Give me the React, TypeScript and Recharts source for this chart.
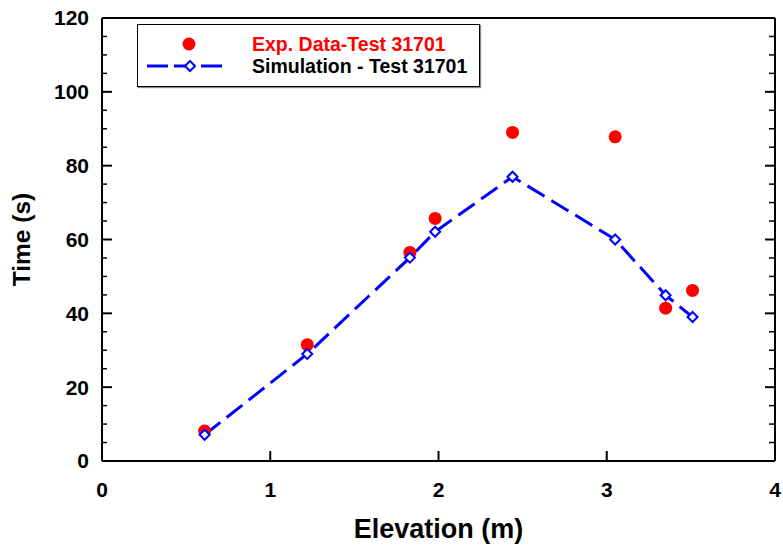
import React from "react";
import {
  ComposedChart,
  XAxis,
  YAxis,
  Scatter,
  Line,
  Legend,
} from "recharts";

// elevation (m) of the measuring stations
const ELEVATION = [0.61, 1.22, 1.83, 1.98, 2.44, 3.05, 3.35, 3.51];
// time (s)
const EXP_TIME = [8.1, 31.5, 56.5, 65.7, 89.0, 87.8, 41.4, 46.2];
const SIM_TIME = [7.1, 29.0, 55.1, 62.1, 77.0, 60.0, 44.9, 39.0];

const X_MAJOR = [0, 1, 2, 3, 4];
const X_MINOR = [
  0.2, 0.4, 0.6, 0.8, 1.2, 1.4, 1.6, 1.8, 2.2, 2.4, 2.6, 2.8, 3.2, 3.4, 3.6,
  3.8,
];
const Y_MAJOR = [0, 20, 40, 60, 80, 100, 120];
const Y_MINOR = [
  5, 10, 15, 25, 30, 35, 45, 50, 55, 65, 70, 75, 85, 90, 95, 105, 110, 115,
];

const LEGEND_LABELS = ["Exp. Data-Test 31701", "Simulation - Test 31701"];
const LEGEND_COLORS = ["#ff0000", "#000000"];

const expPoints = ELEVATION.map((x, i) => ({ x, y: EXP_TIME[i] }));
const simPoints = ELEVATION.map((x, i) => ({ x, y: SIM_TIME[i] }));

const FONT = "'Liberation Sans', Arial, sans-serif";
const BLUE = "#0000ff";
const RED = "#ff0000";

const tickFont = {
  fill: "#000",
  fontSize: 21,
  fontWeight: "bold",
  fontFamily: FONT,
};
const frame = { stroke: "#000", strokeWidth: 2 };
const minorLine = { stroke: "#000", strokeWidth: 1.5 };
const noLabel = () => "";

const RedDot = (props: any) => {
  const { cx, cy } = props;
  if (cx == null || cy == null) return null;
  return <circle cx={cx} cy={cy} r={6.5} fill={RED} />;
};

const Diamond = (props: any) => {
  const { cx, cy } = props;
  if (cx == null || cy == null) return null;
  return (
    <path
      key={props.index}
      d={`M${cx},${cy - 5}L${cx + 5},${cy}L${cx},${cy + 5}L${cx - 5},${cy}Z`}
      fill="#fff"
      stroke={BLUE}
      strokeWidth={2}
    />
  );
};

const LegendBox = () => (
  <div
    style={{
      width: "100%",
      height: "100%",
      boxSizing: "border-box",
      border: "1.5px solid #000",
      boxShadow: "1px 1px 1px #888",
      background: "#fff",
      position: "relative",
      fontFamily: FONT,
      fontWeight: "bold",
      fontSize: 19.5,
    }}
  >
    {LEGEND_LABELS.map((label, i) => (
      <div
        key={label}
        style={{
          position: "absolute",
          left: 0,
          top: i === 0 ? 8 : 30,
          height: 22,
          display: "flex",
          alignItems: "center",
          whiteSpace: "nowrap",
        }}
      >
        <svg width={114} height={22}>
          {i === 0 ? (
            <circle cx={51} cy={11} r={6.5} fill={RED} />
          ) : (
            <g>
              <line
                x1={9}
                y1={11}
                x2={85}
                y2={11}
                stroke={BLUE}
                strokeWidth={3}
                strokeDasharray="21 6"
              />
              <path
                d="M52,6L57,11L52,16L47,11Z"
                fill="#fff"
                stroke={BLUE}
                strokeWidth={2}
              />
            </g>
          )}
        </svg>
        <span style={{ color: LEGEND_COLORS[i] }}>{label}</span>
      </div>
    ))}
  </div>
);

export default function App() {
  return (
    <div style={{ position: "absolute", left: 0, top: 0, background: "#fff" }}>
      <ComposedChart
        width={783}
        height={546}
        margin={{ top: 18, right: 8, bottom: 0, left: 0 }}
      >
        <XAxis
          type="number"
          dataKey="x"
          domain={[0, 4]}
          ticks={X_MAJOR}
          allowDataOverflow
          height={85}
          tickSize={-10}
          tickMargin={31}
          axisLine={frame}
          tickLine={frame}
          tick={tickFont}
          label={{
            value: "Elevation (m)",
            position: "insideBottom",
            offset: 8,
            fill: "#000",
            fontSize: 27,
            fontWeight: "bold",
            fontFamily: FONT,
          }}
        />
        <XAxis
          xAxisId="xb"
          type="number"
          domain={[0, 4]}
          ticks={X_MINOR}
          allowDataOverflow
          mirror
          height={1}
          tickSize={5}
          axisLine={false}
          tickLine={minorLine}
          tickFormatter={noLabel}
        />
        <XAxis
          xAxisId="xt"
          orientation="top"
          type="number"
          domain={[0, 4]}
          ticks={X_MAJOR}
          allowDataOverflow
          mirror
          height={1}
          tickSize={10}
          axisLine={frame}
          tickLine={frame}
          tickFormatter={noLabel}
        />
        <XAxis
          xAxisId="xtm"
          orientation="top"
          type="number"
          domain={[0, 4]}
          ticks={X_MINOR}
          allowDataOverflow
          mirror
          height={1}
          tickSize={5}
          axisLine={false}
          tickLine={minorLine}
          tickFormatter={noLabel}
        />
        <YAxis
          type="number"
          domain={[0, 120]}
          ticks={Y_MAJOR}
          allowDataOverflow
          width={102}
          tickSize={-10}
          tickMargin={23}
          axisLine={frame}
          tickLine={frame}
          tick={tickFont}
          label={{
            value: "Time (s)",
            angle: -90,
            position: "insideLeft",
            offset: 21,
            fill: "#000",
            fontSize: 24.5,
            fontWeight: "bold",
            fontFamily: FONT,
            style: { textAnchor: "middle" },
          }}
        />
        <YAxis
          yAxisId="yl"
          type="number"
          domain={[0, 120]}
          ticks={Y_MINOR}
          allowDataOverflow
          mirror
          width={1}
          tickSize={5}
          axisLine={false}
          tickLine={minorLine}
          tickFormatter={noLabel}
        />
        <YAxis
          yAxisId="yr"
          orientation="right"
          type="number"
          domain={[0, 120]}
          ticks={Y_MAJOR}
          allowDataOverflow
          mirror
          width={1}
          tickSize={10}
          axisLine={frame}
          tickLine={frame}
          tickFormatter={noLabel}
        />
        <YAxis
          yAxisId="yrm"
          orientation="right"
          type="number"
          domain={[0, 120]}
          ticks={Y_MINOR}
          allowDataOverflow
          mirror
          width={1}
          tickSize={5}
          axisLine={false}
          tickLine={minorLine}
          tickFormatter={noLabel}
        />
        <Scatter
          name={LEGEND_LABELS[0]}
          data={expPoints}
          dataKey="y"
          fill={RED}
          shape={RedDot}
          isAnimationActive={false}
        />
        <Line
          name={LEGEND_LABELS[1]}
          data={simPoints}
          dataKey="y"
          type="linear"
          stroke={BLUE}
          strokeWidth={3}
          strokeDasharray="20 8"
          dot={Diamond}
          activeDot={false}
          isAnimationActive={false}
        />
        <Legend
          layout="vertical"
          align="center"
          verticalAlign="middle"
          content={LegendBox}
          wrapperStyle={{ left: 137, top: 24, width: 343, height: 63 }}
        />
      </ComposedChart>
    </div>
  );
}
